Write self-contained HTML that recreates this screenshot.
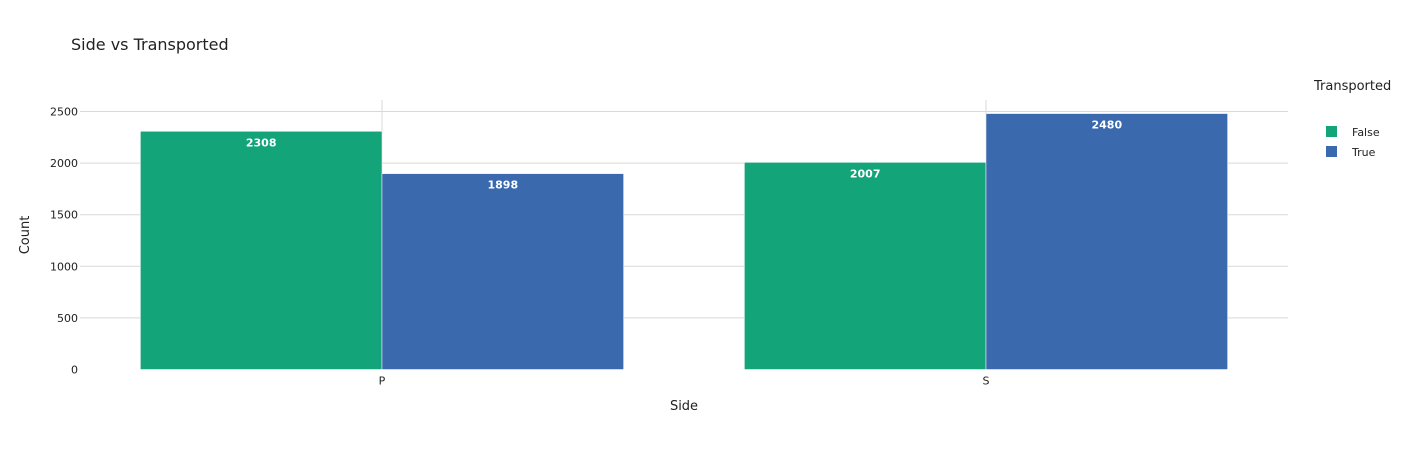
<!DOCTYPE html>
<html><head><meta charset="utf-8"><style>
body{margin:0;background:#fff;font-family:"DejaVu Sans","Liberation Sans",sans-serif;}
svg text{font-family:"DejaVu Sans","Liberation Sans",sans-serif;}
</style></head><body>
<svg id="chart" width="1413" height="450" xmlns="http://www.w3.org/2000/svg">
<rect width="1413" height="450" fill="#fff"/>
<text x="71" y="50" font-size="16" fill="#222">Side vs Transported</text>
<g id="grid"></g>
<g id="bars"></g>
<g id="labels"></g>
<text x="684" y="410" font-size="13" fill="#222" text-anchor="middle">Side</text>
<text transform="translate(29,235) rotate(-90)" font-size="13" fill="#222" text-anchor="middle">Count</text>
<g>
<text x="1314" y="90" font-size="13" fill="#222">Transported</text>
<g><rect x="1326" y="126" width="11" height="11" fill="#13a479"/><text x="1352" y="136" font-size="11" fill="#222">False</text></g>
<g><rect x="1326" y="146" width="11" height="11" fill="#3a69ad"/><text x="1352" y="156" font-size="11" fill="#222">True</text></g>
</g>
</svg>
<script>
const categories = ["P", "S"];
const falseValues = [2308, 2007];
const trueValues = [1898, 2480];
const yTicks = [0, 500, 1000, 1500, 2000, 2500];

const NS = "http://www.w3.org/2000/svg";
const x0 = 80, x1 = 1288, yZero = 369.5, pxPerUnit = 51.6 / 500, plotTop = 100;
const band = (x1 - x0) / categories.length;
const y = v => yZero - v * pxPerUnit;
const xc = i => x0 + band * (i + 0.5);
function mk(tag, attrs, parent) { const e = document.createElementNS(NS, tag); for (const k in attrs) e.setAttribute(k, attrs[k]); parent.appendChild(e); return e; }
const grid = document.getElementById('grid'), bars = document.getElementById('bars'), labels = document.getElementById('labels');

yTicks.forEach(t => {
  if (t > 0) {
    const l = mk('line', {x1: x0, x2: x1, y1: y(t), y2: y(t), stroke: '#d9d9d9', 'stroke-width': 1}, grid);
    
    
  }
  const tx = mk('text', {x: 78, y: y(t) + 4, 'font-size': 11, fill: '#222', 'text-anchor': 'end'}, grid);
  tx.textContent = t;
  
  
});
categories.forEach((c, i) => {
  const l = mk('line', {x1: xc(i), x2: xc(i), y1: plotTop, y2: yZero, stroke: '#d9d9d9', 'stroke-width': 1}, grid);
  
  
  const tx = mk('text', {x: xc(i), y: yZero + 15, 'font-size': 11, fill: '#222', 'text-anchor': 'middle'}, grid);
  tx.textContent = c;
  
  
});
const bw = band * 0.4;
[[falseValues, '#13a479', 'false', 0], [trueValues, '#3a69ad', 'true', 1]].forEach(([vals, col, nm, k]) => {
  vals.forEach((v, i) => {
    const bx = xc(i) - bw + k * bw;
    const r = mk('rect', {x: bx, y: y(v), width: bw, height: yZero - y(v), fill: col, stroke: '#fff', 'stroke-width': 0.5}, bars);
    
    
    const t = mk('text', {x: bx + bw / 2, y: y(v) + 15, 'font-size': 11, 'font-weight': 'bold', fill: '#fff', 'text-anchor': 'middle'}, labels);
    t.textContent = v;
    
    
  });
});
</script>
</body></html>
